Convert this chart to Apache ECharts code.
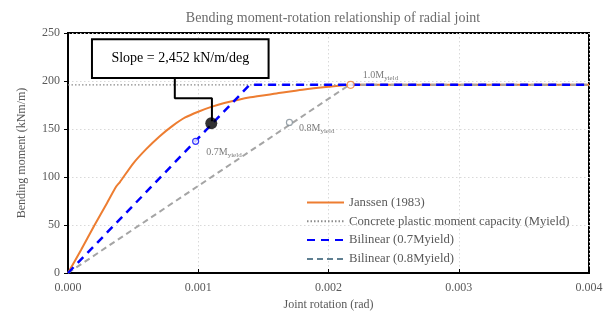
<!DOCTYPE html>
<html>
<head>
<meta charset="utf-8">
<script src="https://cdn.jsdelivr.net/npm/echarts@6/dist/echarts.min.js"></script>
<style>
  html, body { margin: 0; padding: 0; background: #fff; }
  #chart { width: 610px; height: 316px; }
</style>
</head>
<body>
<div id="chart"></div>
<script>
// values
const janssenX = [0, 0.0001, 0.0002, 0.0003, 0.00037, 0.0004, 0.0005, 0.0006, 0.0007, 0.0008, 0.0009, 0.001, 0.0011, 0.0012, 0.0014, 0.0016, 0.0018, 0.002, 0.00217, 0.004]
const janssenY = [0, 24, 49, 73, 90, 95, 114, 129, 142, 153, 162, 168, 173, 177, 183, 187, 191, 194, 196, 196]

const myield = 196
const xTicks = [0, 0.001, 0.002, 0.003, 0.004]

const bilin07X = [0, 0.001395, 0.004]
const bilin07Y = [0, 196, 196]
const bilin08X = [0, 0.00216, 0.004]
const bilin08Y = [0, 196, 196]

// marker points + their labels
const pt07 = [0.00098, 137.2]
const pt08 = [0.0017, 156.8]
const pt10 = [0.00217, 196]
const slopePt = [0.0011, 156]
const slopeText = 'Slope = 2,452 kN/m/deg'

// callout path (data units) from box to the black dot
const calloutX = [0.00082, 0.00082, 0.001105, 0.001105]
const calloutY = [203, 182, 182, 158]
const boxCorners = [[0.000184, 243.5], [0.00154, 203]]

const zip = (xs, ys) => xs.map((x, i) => [x, ys[i]])
const FONT = '"Liberation Serif", "Times New Roman", serif'
const GREY = '#595959'

const chart = echarts.init(document.getElementById('chart'), null, { renderer: 'canvas' })

const subLabel = (main, pos, off) => ({
  show: true, position: pos, offset: off,
  formatter: main + '{s|yield}',
  fontFamily: FONT, fontSize: 10, color: GREY,
  rich: { s: { fontFamily: FONT, fontSize: 7, color: GREY, verticalAlign: 'bottom', padding: [5, 0, 0, 0] } }
})

chart.setOption({
  backgroundColor: '#fff',
  animation: false,
  title: {
    text: 'Bending moment-rotation relationship of radial joint',
    left: 328, top: 6, textAlign: 'center',
    textStyle: { fontFamily: FONT, fontSize: 14, fontWeight: 'normal', color: '#6b6b6b' }
  },
  grid: { left: 68, right: 21, top: 33, bottom: 43, show: true, borderColor: '#000', borderWidth: 2 },
  legend: {
    orient: 'vertical', left: 306, top: 196, padding: 0,
    itemWidth: 37, itemHeight: 12, itemGap: 5.8,
    itemStyle: { opacity: 0 },
    textStyle: { fontFamily: FONT, fontSize: 12.7, color: GREY },
    data: [
      { name: 'Janssen (1983)' },
      { name: 'Concrete plastic moment capacity (Myield)' },
      { name: 'Bilinear (0.7Myield)' },
      { name: 'Bilinear (0.8Myield)', lineStyle: { color: '#5f7f91' } }
    ]
  },
  xAxis: {
    type: 'value', min: 0, max: 0.004, interval: 0.001,
    name: 'Joint rotation (rad)', nameLocation: 'middle', nameGap: 24,
    nameTextStyle: { fontFamily: FONT, fontSize: 12, color: GREY },
    axisLine: { show: true, lineStyle: { color: '#000', width: 2 } },
    axisTick: { show: true, inside: true, length: 4, lineStyle: { color: '#000' } },
    axisLabel: { fontFamily: FONT, fontSize: 12, color: GREY, margin: 9, formatter: v => v.toFixed(3) },
    splitLine: { show: true, lineStyle: { color: '#d9d9d9', type: [1.5, 2.5] } }
  },
  yAxis: {
    type: 'value', min: 0, max: 250, interval: 50,
    name: 'Bending moment (kNm/m)', nameLocation: 'middle', nameGap: 40, nameRotate: 90,
    nameTextStyle: { fontFamily: FONT, fontSize: 12, color: GREY },
    axisLine: { show: true, lineStyle: { color: '#000', width: 2 } },
    axisTick: { show: true, length: 4, lineStyle: { color: '#000' } },
    axisLabel: { fontFamily: FONT, fontSize: 12, color: GREY, margin: 8 },
    splitLine: { show: true, lineStyle: { color: '#d9d9d9', type: [1.5, 2.5] } }
  },
  series: [
    {
      name: 'Janssen (1983)', type: 'line', symbol: 'none', smooth: 0.2,
      data: zip(janssenX, janssenY),
      lineStyle: { color: '#ED7D31', width: 2 }, itemStyle: { color: '#ED7D31' }, z: 2
    },
    {
      name: 'Concrete plastic moment capacity (Myield)', type: 'line', symbol: 'none',
      data: [[xTicks[0], myield], [xTicks[4], myield]],
      lineStyle: { color: '#8c8c8c', width: 1.2, type: [1.5, 2] }, itemStyle: { color: '#8c8c8c' }, z: 3
    },
    {
      name: 'Bilinear (0.8Myield)', type: 'line', symbol: 'none',
      data: zip(bilin08X, bilin08Y),
      lineStyle: { color: '#a5a5a5', width: 2, type: [6, 4] }, itemStyle: { color: '#a5a5a5' }, z: 4
    },
    {
      name: 'Bilinear (0.7Myield)', type: 'line', symbol: 'none',
      data: zip(bilin07X, bilin07Y),
      lineStyle: { color: '#0000ff', width: 2.5, type: [8, 6] }, itemStyle: { color: '#0000ff' }, z: 5
    },
    {
      name: 'callout', type: 'line', symbol: 'none', silent: true,
      data: zip(calloutX, calloutY),
      lineStyle: { color: '#000', width: 2 }, z: 6
    },
    {
      name: 'pt07', type: 'scatter', symbol: 'circle', symbolSize: 6, data: [pt07],
      itemStyle: { color: '#fff', borderColor: '#0000ff', borderWidth: 1.2 }, z: 7,
      label: subLabel('0.7M', 'right', [2, 11])
    },
    {
      name: 'pt08', type: 'scatter', symbol: 'circle', symbolSize: 6, data: [pt08],
      itemStyle: { color: '#fff', borderColor: '#7f8c95', borderWidth: 1.2 }, z: 7,
      label: subLabel('0.8M', 'right', [1, 6])
    },
    {
      name: 'pt10', type: 'scatter', symbol: 'circle', symbolSize: 7, data: [pt10],
      itemStyle: { color: '#fff', borderColor: '#ED7D31', borderWidth: 1.2 }, z: 7,
      label: subLabel('1.0M', 'right', [3, -9])
    },
    {
      name: 'slope', type: 'scatter', symbol: 'circle', symbolSize: 12, data: [slopePt],
      itemStyle: { color: '#000' }, z: 8
    }
  ]
})

// callout box placed from data coordinates
const p0 = chart.convertToPixel({ gridIndex: 0 }, boxCorners[0])
const p1 = chart.convertToPixel({ gridIndex: 0 }, boxCorners[1])
chart.setOption({
  graphic: [
    {
      type: 'rect', z: 100,
      shape: { x: p0[0], y: p0[1], width: p1[0] - p0[0], height: p1[1] - p0[1] },
      style: { fill: '#fff', stroke: '#000', lineWidth: 2 }
    },
    {
      type: 'text', z: 101,
      x: (p0[0] + p1[0]) / 2, y: (p0[1] + p1[1]) / 2,
      style: { text: slopeText, fill: '#000', font: '14px ' + FONT, align: 'center', verticalAlign: 'middle' }
    }
  ]
})
</script>
</body>
</html>
